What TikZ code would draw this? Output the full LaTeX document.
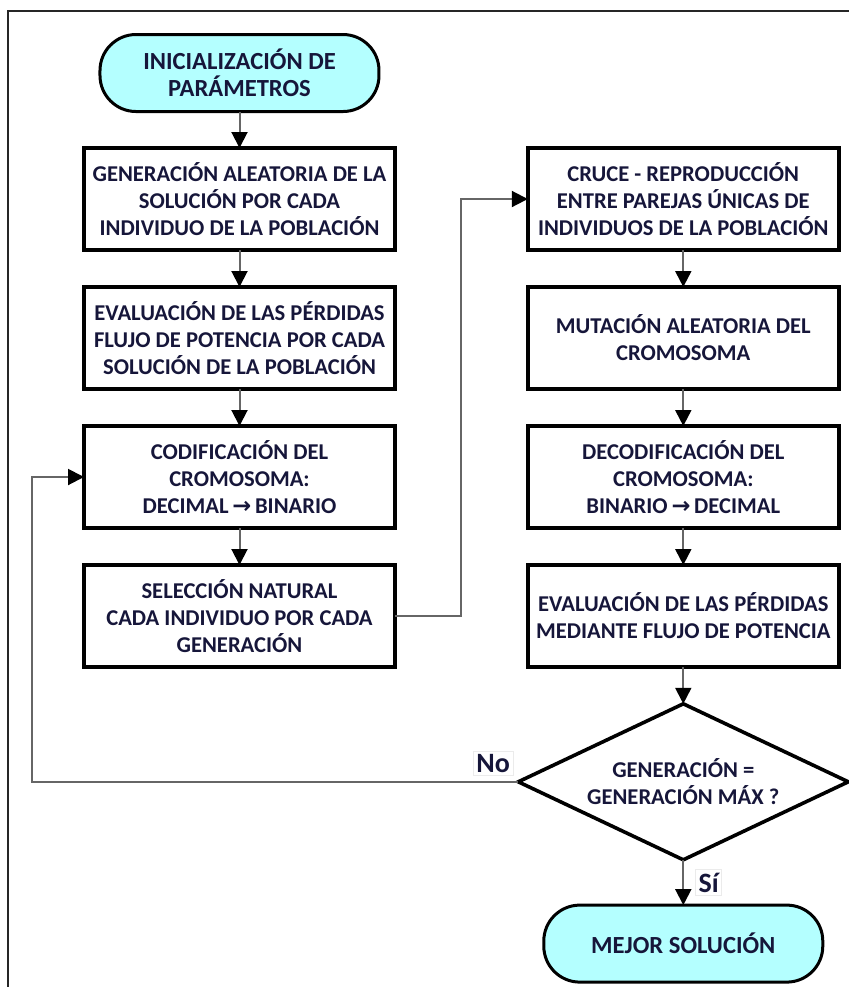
\documentclass[tikz,border=0pt]{standalone}
\usepackage{fontspec}
\setmainfont{Carlito}
\newfontfamily\arrowfont{DejaVu Sans}
\usepackage{tikz}
\usetikzlibrary{matrix}
\usetikzlibrary{arrows.meta}
\usetikzlibrary{shapes.geometric}
\usetikzlibrary{positioning}
\definecolor{termfill}{RGB}{180,255,255}
\definecolor{ink}{RGB}{22,22,58}
\newcommand{\toarrow}{{\arrowfont\bfseries\,→\,}}
\tikzset{
  term/.style={draw, anchor=center, line width=1.5pt, fill=termfill, rounded corners=18pt, minimum width=139.5pt, minimum height=38.5pt, align=center, inner sep=2pt, text=ink, font=\fontsize{12.3}{13.5}\selectfont\bfseries},
  procbox/.style={draw, anchor=center, line width=2pt, minimum width=155.5pt, minimum height=51pt, align=center, inner sep=2pt, text=ink},
  decision/.style={diamond, aspect=2.1, draw, anchor=center, line width=1.8pt, minimum width=165pt, minimum height=78pt, inner sep=0pt, align=center, text=ink},
  flow/.style={-{Triangle[length=8pt,width=8pt,color=black]}, line width=1pt, draw=black!60},
  lbl/.style={draw=black!8, line width=0.4pt, inner sep=1.5pt, font=\fontsize{14}{15}\selectfont\bfseries, text=ink},
  frame/.style={line width=1.2pt, draw=black!85}
}
\begin{document}
\begin{tikzpicture}[font=\fontsize{11.3}{13.5}\selectfont\bfseries]
			\useasboundingbox (0,0) rectangle (424pt,-493.5pt);
			\draw[frame] (4pt,-520pt) |- (450pt,-5.5pt);
			\matrix (chart) [anchor=north west,inner sep=0pt,outer sep=0pt,row sep=16.5pt,column sep=59.75pt,ampersand replacement=\&] at (41pt,-16.5pt)
			{
				\node[term] (ini) {INICIALIZACIÓN DE\\PARÁMETROS}; \& \\
				\node[procbox] (gen) {GENERACIÓN ALEATORIA DE LA\\SOLUCIÓN POR CADA\\INDIVIDUO DE LA POBLACIÓN}; \& \node[procbox] (cru) {CRUCE - REPRODUCCIÓN\\ENTRE PAREJAS ÚNICAS DE\\INDIVIDUOS DE LA POBLACIÓN}; \\
				\node[procbox] (eva) {EVALUACIÓN DE LAS PÉRDIDAS\\FLUJO DE POTENCIA POR CADA\\SOLUCIÓN DE LA POBLACIÓN}; \& \node[procbox] (mut) {MUTACIÓN ALEATORIA DEL\\CROMOSOMA}; \\
				\node[procbox] (cod) {CODIFICACIÓN DEL\\CROMOSOMA:\\DECIMAL\toarrow BINARIO}; \& \node[procbox] (dcd) {DECODIFICACIÓN DEL\\CROMOSOMA:\\BINARIO\toarrow DECIMAL}; \\
				\node[procbox] (sel) {SELECCIÓN NATURAL\\CADA INDIVIDUO POR CADA\\GENERACIÓN}; \& \node[procbox] (epf) {EVALUACIÓN DE LAS PÉRDIDAS\\MEDIANTE FLUJO DE POTENCIA}; \\
				\& \node[decision] (dec) {GENERACIÓN =\\GENERACIÓN MÁX ?}; \\[4.5pt]
				\& \node[term] (fin) {MEJOR SOLUCIÓN}; \\
			};
			\draw[flow] (ini) -- (gen);
			\draw[flow] (gen) -- (eva);
			\draw[flow] (eva) -- (cod);
			\draw[flow] (cod) -- (sel);
			\draw[flow] (sel.east) -- ++(33pt,0) |- (cru.west);
			\draw[flow] (cru) -- (mut);
			\draw[flow] (mut) -- (dcd);
			\draw[flow] (dcd) -- (epf);
			\draw[flow] (epf) -- (dec);
			\draw[flow] (dec) -- node[lbl,anchor=west,xshift=6pt] (si) {Sí} (fin);
			\draw[flow] (dec.west) -| ([xshift=-26pt]cod.west) -- (cod.west);
			\node[lbl,above left=3pt and 2.5pt of dec.west] (no) {No};
\end{tikzpicture}
\end{document}
